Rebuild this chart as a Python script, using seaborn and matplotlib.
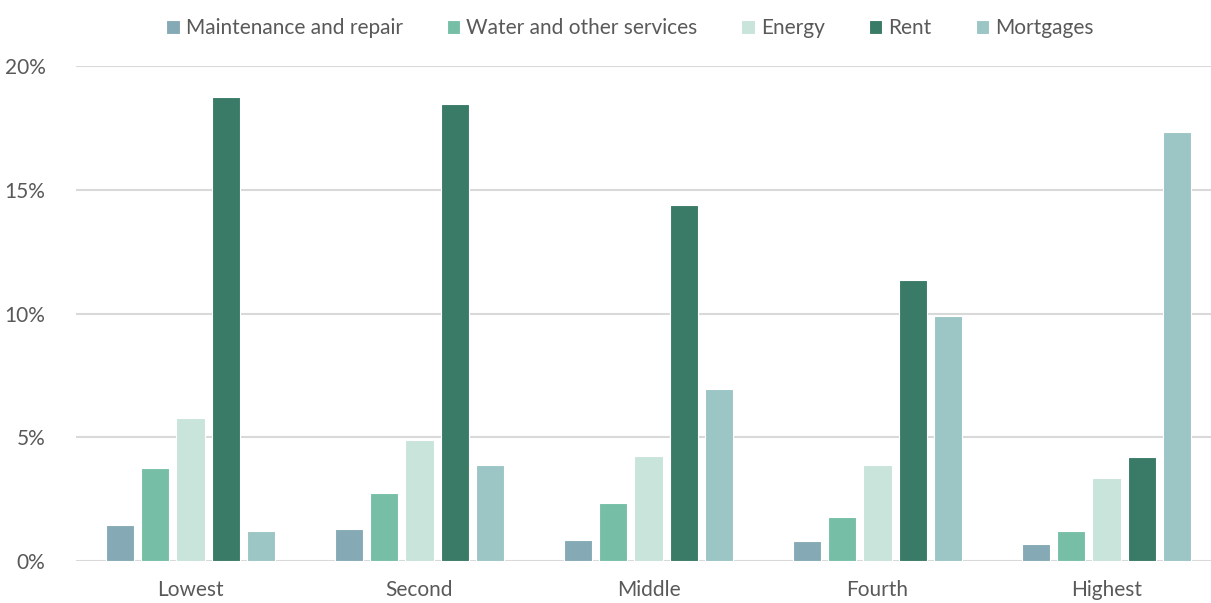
import pandas as pd
import matplotlib.pyplot as plt
import seaborn as sns
from matplotlib.ticker import FuncFormatter

# Quintile groups and housing cost shares (% of spending)
quintiles = ['Lowest', 'Second', 'Middle', 'Fourth', 'Highest']
maintenance = [1.45, 1.30, 0.86, 0.81, 0.69]
water = [3.76, 2.75, 2.35, 1.78, 1.21]
energy = [5.78, 4.89, 4.25, 3.88, 3.35]
rent = [18.75, 18.46, 14.38, 11.36, 4.22]
mortgages = [1.22, 3.87, 6.95, 9.90, 17.33]

series = ['Maintenance and repair', 'Water and other services', 'Energy', 'Rent', 'Mortgages']
colors = ['#85AAB5', '#76BFA6', '#C9E4DA', '#3A7B67', '#9CC5C5']

rows = []
for name, vals in zip(series, [maintenance, water, energy, rent, mortgages]):
    for q, v in zip(quintiles, vals):
        rows.append({'Quintile': q, 'Series': name, 'Value': v})
df = pd.DataFrame(rows)

sns.set_style('white')
plt.rcParams['font.family'] = ['Lato', 'DejaVu Sans']

fig = plt.figure(figsize=(12.11, 6.03), dpi=100)
ax = fig.add_axes([76 / 1211, 1 - 561 / 603, (1221 - 76) / 1211, (561 - 66) / 603])

sns.barplot(data=df, x='Quintile', y='Value', hue='Series', palette=colors,
            saturation=1, width=0.765, gap=0.2, edgecolor='white', linewidth=0.8,
            ax=ax, zorder=3)

ax.set_ylim(0, 20)
ax.set_xlim(-0.5, 4.5)
ax.set_yticks([0, 5, 10, 15, 20])
ax.yaxis.set_major_formatter(FuncFormatter(lambda v, p: f'{v:.0f}%'))
ax.grid(axis='y', color='#D9D9D9', linewidth=1.5, zorder=0)
ax.set_axisbelow(True)
for s in ax.spines.values():
    s.set_visible(False)
ax.set_xlabel('')
ax.set_ylabel('')
ax.tick_params(axis='y', length=0, pad=22, labelsize=15, labelcolor='#595959')
ax.tick_params(axis='x', length=0, pad=14, labelsize=15, labelcolor='#595959')

handles, labels = ax.get_legend_handles_labels()
ax.get_legend().remove()
fig.legend(handles, labels, loc='center', bbox_to_anchor=(630 / 1211, 1 - 28 / 603),
           ncol=5, frameon=False, fontsize=15, handlelength=0.65, handleheight=0.65,
           handletextpad=0.3, columnspacing=2.1, labelcolor='#595959')

fig.savefig('out.png', dpi=100)
